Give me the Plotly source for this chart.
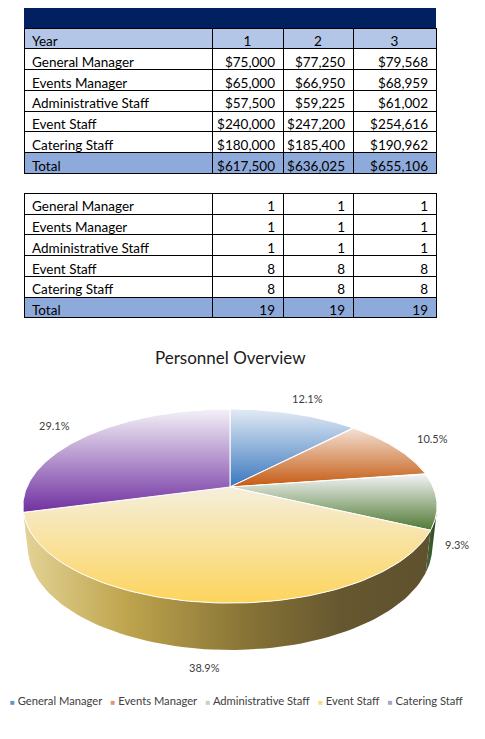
import numpy as np
import plotly.graph_objects as go

# ---- data ----
roles = ["General Manager", "Events Manager", "Administrative Staff", "Event Staff", "Catering Staff"]
years = ["1", "2", "3"]
cost_y1 = [75000, 65000, 57500, 240000, 180000]
cost_y2 = [77250, 66950, 59225, 247200, 185400]
cost_y3 = [79568, 68959, 61002, 254616, 190962]
cost_total = [617500, 636025, 655106]
staff_y1 = [1, 1, 1, 8, 8]
staff_y2 = [1, 1, 1, 8, 8]
staff_y3 = [1, 1, 1, 8, 8]
staff_total = [19, 19, 19]

# ---- styles ----
W, H = 485, 739
OFF = 8  # page body margin
FONT = "Lato"
NAVY = "#002060"
YEAR_BLUE = "#b4c6e7"
TOTAL_BLUE = "#8eaadb"

top_grad = [  # bottom colour, top colour
    ("#3a77be", "#e2ebf5"),
    ("#c55a11", "#f3e1d5"),
    ("#4f7a33", "#f3f3f5"),
    ("#fdd45c", "#f5efdc"),
    ("#7030a0", "#f4f2f8"),
]
wall_grad = [
    None,
    None,
    [[0, "#4a6b3a"], [1, "#2c4322"]],
    [[0, "#e3d396"], [0.25, "#bfa54e"], [0.55, "#877336"], [0.78, "#665730"], [1, "#5e512d"]],
    [[0, "#5a2a80"], [1, "#5a2a80"]],
]
legend_cols = ["#5f94d0", "#dc9a74", "#c6cfc2", "#f5dc84", "#ad9ccb"]

# 3d pie projection (page pixels, measured from top)
CX, CY = 230, 487
SIN_T, COS_T = 0.4596, 0.888
DIST, FOC, DEPTH = 4.53, 920, 0.23


def px(x):
    return (x - OFF) / W


def py(y):
    return 1 - (y - OFF) / H


def proj(theta_deg, r=1.0, y=0.0):
    t = np.radians(theta_deg)
    X = r * np.sin(t)
    Z = r * np.cos(t)
    yc = y * COS_T + Z * SIN_T
    d = DIST + Z * COS_T - y * SIN_T
    return CX + FOC * X / d, H - (CY - FOC * yc / d)


def money(v):
    return "${:,.0f}".format(v)


fig = go.Figure()

# navy band above the first table
fig.add_shape(type="rect", xref="x", yref="y", x0=24, x1=436, y0=H - 28, y1=H - 8,
              fillcolor=NAVY, line=dict(width=0))

TXT = dict(family=FONT, size=13.5, color="black")

# ---- table 1: cost per year ----
rows1 = roles + ["Total"]
col_vals = [rows1]
for i in range(3):
    series = [cost_y1, cost_y2, cost_y3][i]
    col_vals.append([money(v) for v in series] + [money(cost_total[i])])
n1 = len(rows1)
fill1 = [["white"] * (n1 - 1) + [TOTAL_BLUE] for _ in col_vals]

fig.add_trace(go.Table(
    domain=dict(x=[px(24), px(436)], y=[py(250), py(28)]),
    columnwidth=[188, 71, 70, 83],
    header=dict(values=["Year"] + years, height=20.75, fill_color=YEAR_BLUE,
                align=["left", "center", "center", "center"],
                line=dict(color="black", width=1), font=TXT),
    cells=dict(values=col_vals, height=20.75, fill=dict(color=fill1),
               align=["left", "right", "right", "right"],
               line=dict(color="black", width=1), font=TXT),
))

# ---- table 2: headcount ----
rows2 = roles[1:] + ["Total"]
col2 = [rows2]
for i in range(3):
    series = [staff_y1, staff_y2, staff_y3][i]
    col2.append([str(v) for v in series[1:]] + [str(staff_total[i])])
n2 = len(rows2)
fill2 = [["white"] * (n2 - 1) + [TOTAL_BLUE] for _ in col2]
fig.add_trace(go.Table(
    domain=dict(x=[px(24), px(436)], y=[py(400), py(193.3)]),
    columnwidth=[188, 71, 70, 83],
    header=dict(values=[roles[0]] + [str(s[0]) for s in (staff_y1, staff_y2, staff_y3)],
                height=20.75, fill_color="white", align=["left", "right", "right", "right"],
                line=dict(color="black", width=1), font=TXT),
    cells=dict(values=col2, height=20.75, fill=dict(color=fill2),
               align=["left", "right", "right", "right"],
               line=dict(color="black", width=1), font=TXT),
))

# ---- 3d pie ----
shares = np.array(cost_y1) / sum(cost_y1)
bounds = np.concatenate([[0], np.cumsum(shares)]) * 360
vis_lo = np.degrees(np.arccos(-1 / (DIST * COS_T)))
vis_hi = 360 - vis_lo

# side walls first
for i in range(len(roles)):
    a, b = max(bounds[i], vis_lo), min(bounds[i + 1], vis_hi)
    if b <= a or wall_grad[i] is None:
        continue
    th = np.linspace(a, b, 80)
    xt, yt = proj(th)
    xb, yb = proj(th[::-1], y=-DEPTH)
    fig.add_trace(go.Scatter(
        x=np.concatenate([xt, xb, xt[:1]]), y=np.concatenate([yt, yb, yt[:1]]),
        mode="lines", fill="toself", line=dict(width=0),
        fillgradient=dict(type="horizontal", colorscale=wall_grad[i]),
        hoverinfo="skip", showlegend=False))

# top faces
cx0, cy0 = proj(0, r=0)
for i in range(len(roles)):
    th = np.linspace(bounds[i], bounds[i + 1], 120)
    xa, ya = proj(th)
    lo, hi = top_grad[i]
    fig.add_trace(go.Scatter(
        x=np.concatenate([[cx0], xa, [cx0]]), y=np.concatenate([[cy0], ya, [cy0]]),
        mode="lines", fill="toself", line=dict(color="white", width=1),
        fillgradient=dict(type="vertical", colorscale=[[0, lo], [1, hi]]),
        name=roles[i], hoverinfo="skip", showlegend=False))

# data labels
for i in range(len(roles)):
    mid = (bounds[i] + bounds[i + 1]) / 2
    front = np.cos(np.radians(mid)) < 0
    lx, ly = proj(mid, r=1.12 if front else 1.25, y=-DEPTH if front else 0.0)
    fig.add_annotation(x=lx, y=ly, xref="x", yref="y", text=f"{shares[i] * 100:.1f}%",
                       showarrow=False, font=dict(family=FONT, size=11, color="#404040"))

# title
fig.add_annotation(x=px(230), y=py(357), xref="paper", yref="paper",
                   text="Personnel Overview", showarrow=False,
                   font=dict(family=FONT, size=17, color="#1a1a1a"))

# legend row
items = [f'<span style="color:{c};font-size:8px">\u25a0</span>\u00a0{n}'
         for n, c in zip(roles, legend_cols)]
fig.add_annotation(x=px(8), y=py(700), xref="paper", yref="paper", xanchor="left",
                   yanchor="middle", text="\u00a0\u00a0\u00a0".join(items), showarrow=False,
                   font=dict(family=FONT, size=11.2, color="#404040"))

fig.update_layout(
    width=W, height=H, margin=dict(l=0, r=0, t=0, b=0),
    paper_bgcolor="white", plot_bgcolor="white",
    xaxis=dict(range=[OFF, W + OFF], visible=False, fixedrange=True),
    yaxis=dict(range=[-OFF, H - OFF], visible=False, fixedrange=True),
    showlegend=False,
)

fig.write_html("out.html")
